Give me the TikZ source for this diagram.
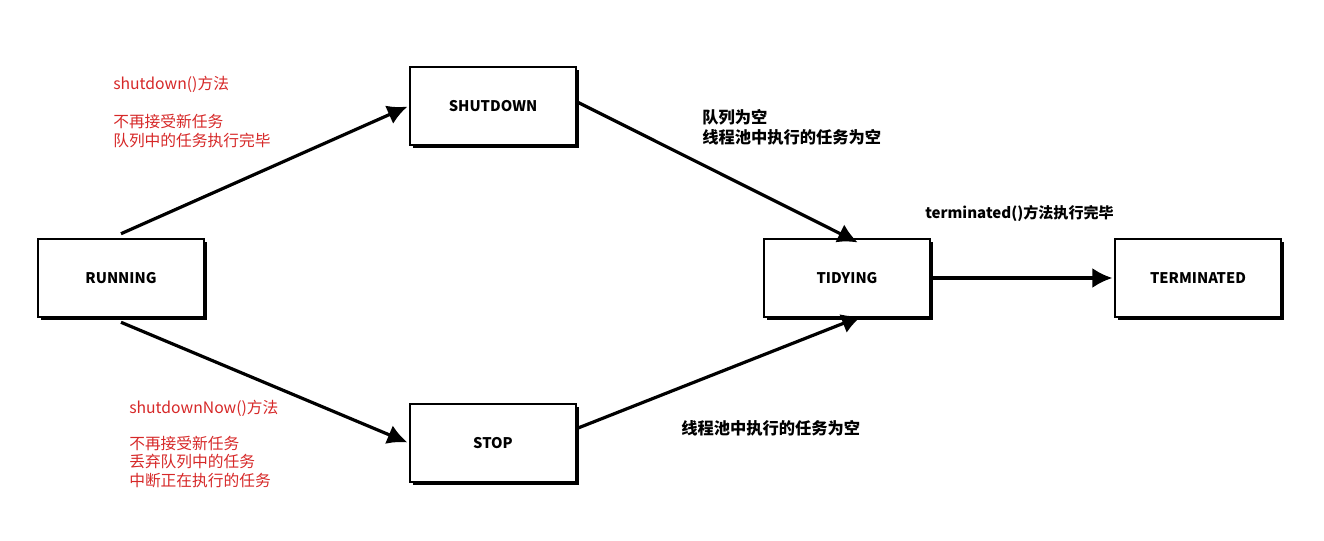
\documentclass[tikz,border=0pt]{standalone}
\usepackage{fontspec}
\setmainfont{Noto Sans CJK SC}
\usetikzlibrary{shadows,arrows.meta}
\definecolor{lblred}{RGB}{214,40,40}
\begin{document}
\begin{tikzpicture}[x=0.75pt,y=-0.75pt,
  state/.style={draw=black,line width=1.4pt,fill=white,minimum width=125pt,minimum height=59pt,
    inner sep=0pt,font=\fontsize{11}{13}\selectfont\bfseries,
    drop shadow={shadow xshift=2.2pt,shadow yshift=-2.2pt,fill=black,opacity=1}},
  conn/.style={line width=2.4pt,-{Latex[length=15pt,width=15pt]},shorten >=1pt},
  redlbl/.style={text=lblred,anchor=west,inner sep=0pt,align=left,font=\fontsize{11.8}{14.2}\selectfont},
  blklbl/.style={text=black,anchor=west,inner sep=0pt,align=left,font=\fontsize{12.2}{15}\selectfont\bfseries}]
\useasboundingbox (0,0) rectangle (1324,541);
\node[state] (run) at (121,278) {RUNNING};
\node[state] (shut) at (493,106) {SHUTDOWN};
\node[state] (stop) at (493,443) {STOP};
\node[state] (tidy) at (847,278) {TIDYING};
\node[state] (term) at (1198,278) {TERMINATED};

\draw[conn] ([yshift=3]run.north) -- (shut.west);
\draw[conn] ([yshift=-3]run.south) -- (stop.west);
\draw[conn] ([yshift=3]shut.east) -- ([xshift=9,yshift=-4]tidy.north);
\draw[conn] ([yshift=11]stop.east) -- ([xshift=12,yshift=2]tidy.south);
\draw[conn] (tidy.east) -- (term.west);

\node[redlbl] (l1) at (113,84) {shutdown()方法};
\node[redlbl] (l2) at (113,131) {不再接受新任务\\队列中的任务执行完毕};
\node[redlbl] (l3) at (129,408) {shutdownNow()方法};
\node[redlbl] (l4) at (129,462) {不再接受新任务\\丢弃队列中的任务\\中断正在执行的任务};
\node[blklbl] (l5) at (702,127) {队列为空\\线程池中执行的任务为空};
\node[blklbl] (l6) at (681,428) {线程池中执行的任务为空};
\node[blklbl,font=\fontsize{11.3}{14}\selectfont\bfseries] (l7) at (925,213) {terminated()方法执行完毕};
\end{tikzpicture}
\end{document}
